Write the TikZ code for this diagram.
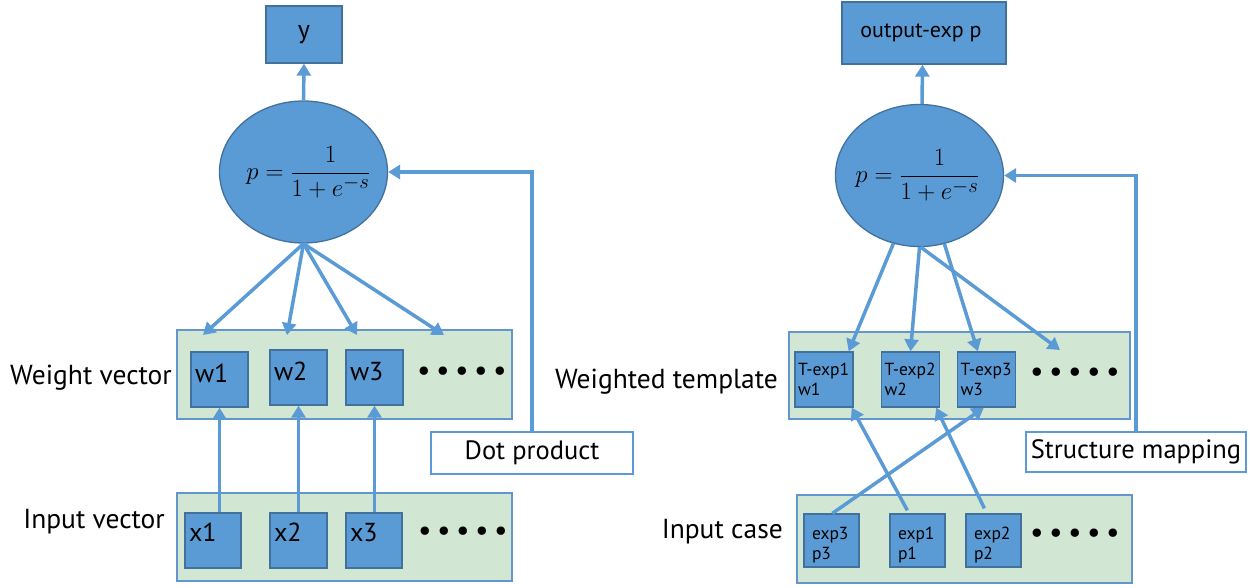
\documentclass[tikz,border=0pt]{standalone}
\usepackage{fontspec}
\setmainfont{PT Sans}
\usetikzlibrary{arrows.meta,shapes.geometric,calc}
\definecolor{nodeblue}{HTML}{5B9BD5}
\definecolor{nodeedge}{HTML}{41719C}
\definecolor{panelgreen}{HTML}{D1E7D3}
\definecolor{paneledge}{HTML}{6396CC}
\begin{document}
\begin{tikzpicture}[x=1pt,y=-1pt,
  panel/.style={draw=paneledge,fill=panelgreen,line width=1.4pt,inner sep=0pt},
  cell/.style={draw=nodeedge,fill=nodeblue,line width=1.3pt,inner ysep=0pt,
    inner xsep=4pt,text width=49pt,align=left,text height=18pt,text depth=12pt,
    font=\fontsize{26}{29}\selectfont},
  xcell/.style={cell,text depth=16pt},
  tcell/.style={draw=nodeedge,fill=nodeblue,line width=1.3pt,inner ysep=0pt,
    inner xsep=3pt,text width=52pt,align=left,font=\fontsize{17.5}{19.5}\selectfont},
  ecell/.style={tcell,inner xsep=8pt,text width=39pt,text depth=14pt},
  outbox/.style={draw=nodeedge,fill=nodeblue,line width=1.3pt,inner sep=0pt},
  sigm/.style={ellipse,draw=nodeedge,fill=nodeblue,line width=1.3pt,inner sep=0pt,
    minimum width=168pt,minimum height=142pt},
  tag/.style={draw=nodeblue,fill=white,line width=1.8pt,inner sep=0pt,
    font=\fontsize{26.5}{29}\selectfont},
  caption/.style={anchor=east,inner sep=0pt,font=\fontsize{27.5}{30}\selectfont},
  dotrow/.style={inner sep=0pt,font=\fontsize{30}{32}\selectfont},
  arr/.style={draw=nodeblue,line width=3.5pt,-{Triangle[length=12pt,width=14pt]}}
]
\useasboundingbox (0,0) rectangle (1250,587);
\newcommand{\dotseq}{\makebox[19pt]{\textbullet}\makebox[19pt]{\textbullet}\makebox[19pt]{\textbullet}\makebox[19pt]{\textbullet}\makebox[19pt]{\textbullet}}
% the formula is boxed at zero width so the ellipse keeps its own size
\newcommand{\sigmoid}[1]{\makebox[0pt]{\hspace*{#1}\fontsize{31}{35}\selectfont$\displaystyle p=\frac{1}{1+e^{-s}}$}}

% ---------------- left network: perceptron ----------------
\node[panel,minimum width=335pt,minimum height=89pt] (wv) at (344.5,374.5) {};
\node[panel,minimum width=335pt,minimum height=88pt] (iv) at (344.5,537) {};

\node[outbox,minimum width=76pt,minimum height=57pt,text height=18pt,text depth=10pt,
  font=\fontsize{26}{29}\selectfont] (y) at (304,34.5) {y};
\node[sigm] (eL) at (303.5,172) {\sigmoid{10pt}};

\node[cell,minimum height=55pt] (w1) at (219.5,379.5) {w1};
\node[cell,minimum height=55pt] (w2) at (298.5,377.5) {w2};
\node[cell,minimum height=55pt] (w3) at (374.5,377.5) {w3};
\node[dotrow] (wdots) at (462,374) {\dotseq};

\node[xcell,minimum height=55pt,text width=48pt] (x1) at (213,540.5) {x1};
\node[xcell,minimum height=55pt] (x2) at (298.5,540.5) {x2};
\node[xcell,minimum height=55pt,text width=48pt] (x3) at (374,540.5) {x3};
\node[dotrow] (xdots) at (463,534) {\dotseq};

\node[tag,minimum width=202pt,minimum height=42pt] (dp) at (532,453) {Dot product};

\node[caption] (lw) at (172,378) {Weight vector};
\node[caption] (li) at (165,522) {Input vector};

\coordinate (aw1) at (203,335);
\coordinate (aw2) at (287,335);
\coordinate (aw3) at (357,335);
\coordinate (aw4) at (444,335);

\draw[arr] (eL.north) -- (y.south);
\foreach \t in {aw1,aw2,aw3,aw4} \draw[arr] (eL.south) -- (\t);
\draw[arr] (x1.north -| w1.south) -- (w1.south);
\draw[arr] (x2.north -| w2.south) -- (w2.south);
\draw[arr] (x3.north -| w3.south) -- (w3.south);
\draw[arr] (dp.north) |- (eL.east);

% ---------------- right network: structure mapping ----------------
\node[panel,minimum width=341pt,minimum height=87pt] (wt) at (959.5,375.5) {};
\node[panel,minimum width=335pt,minimum height=88pt] (ic) at (964.5,539) {};

\node[outbox,minimum width=164pt,minimum height=62pt,text height=16pt,text depth=8pt,
  font=\fontsize{22}{25}\selectfont] (out) at (924,33) {output-exp p\hspace*{6pt}};
\node[sigm] (eR) at (919.5,175.5) {\sigmoid{-4pt}};

\node[tcell,minimum height=55pt] (t1) at (824,379.5) {\mbox{T-exp1}\\w1};
\node[tcell,minimum height=55pt] (t2) at (910.5,379.5) {\mbox{T-exp2}\\w2};
\node[tcell,minimum height=55pt] (t3) at (986.5,379.5) {\mbox{T-exp3}\\w3};
\node[dotrow] (tdots) at (1075,375) {\dotseq};

\node[ecell,minimum height=53pt] (e3) at (831.5,540.5) {exp3\\p3};
\node[ecell,minimum height=53pt] (e1) at (917.5,540.5) {exp1\\p1};
\node[ecell,minimum height=53pt] (e2) at (993.5,540.5) {exp2\\p2};
\node[dotrow] (edots) at (1075,536) {\dotseq};

\node[tag,minimum width=220pt,minimum height=40pt] (sm) at (1136,452) {Structure mapping};

\node[caption] (lt) at (778,382) {Weighted template};
\node[caption] (lc) at (783,532) {Input case};

\coordinate (at4) at (1060,350);

\draw[arr] ($(eR.north)+(2.5,0)$) -- ($(out.south)+(-1.5,0)$);
\draw[arr] (eR.-111.7) -- ($(t1.north east)+(-5,0)$);
\draw[arr] (eR.south) -- (t2.north);
\draw[arr] (eR.-70.6) -- ($(t3.north west)+(21,0)$);
\draw[arr] (eR.-89) -- (at4);
\draw[arr] ($(e1.north west)+(18,-3)$) -- ($(t1.south east)+(-2,0)$);
\draw[arr] ($(e2.north west)+(19,-5)$) -- ($(t2.south east)+(-4,0)$);
\draw[arr] ($(e3.north west)+(29,0)$) -- ($(t3.south west)+(27,0)$);
\draw[arr] (sm.north) |- (eR.east);
\end{tikzpicture}
\end{document}
